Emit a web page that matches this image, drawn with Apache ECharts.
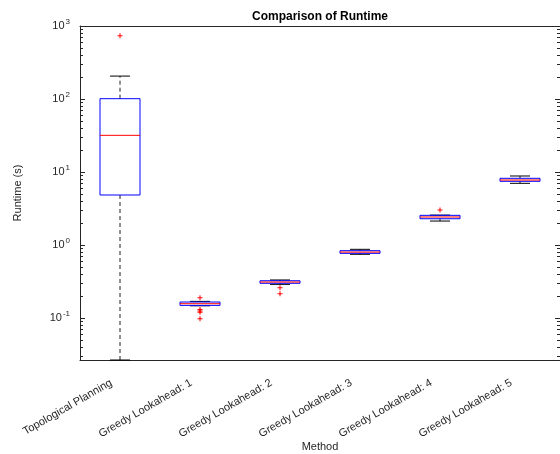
<!DOCTYPE html>
<html>
<head>
<meta charset="utf-8">
<script src="https://cdn.jsdelivr.net/npm/echarts@6/dist/echarts.min.js"></script>
<style>
  html, body { margin: 0; padding: 0; background: #fff; }
  #main { width: 560px; height: 454px; }
</style>
</head>
<body>
<div id="main"></div>
<script>
var categories = ['Topological Planning', 'Greedy Lookahead: 1', 'Greedy Lookahead: 2',
                  'Greedy Lookahead: 3', 'Greedy Lookahead: 4', 'Greedy Lookahead: 5'];
// box statistics per method (seconds)
var whiskerLow  = [0.0266, 0.147, 0.289, 0.746, 2.13, 7.0];
var q1          = [4.84, 0.149, 0.299, 0.769, 2.29, 7.46];
var medians     = [31.8, 0.157, 0.311, 0.80, 2.42, 7.77];
var q3          = [101, 0.1656, 0.324, 0.836, 2.55, 8.2];
var whiskerHigh = [206, 0.169, 0.332, 0.873, 2.57, 8.82];
// outliers: [methodIndex, value]
var outliers = [
  [0, 736],
  [1, 0.190], [1, 0.131], [1, 0.125], [1, 0.120], [1, 0.098],
  [2, 0.260], [2, 0.215],
  [4, 3.02]
];
var majorTicks = [0.1, 1, 10, 100, 1000];
var minorTicks = [];
[0.01, 0.1, 1, 10, 100].forEach(function (d) {
  for (var k = 2; k <= 9; k++) {
    var v = +(d * k).toPrecision(3);
    if (v > 0.0266 && v < 1000) minorTicks.push(v);
  }
});

var yMin = 0.0266, yMax = 1000;
var fontFamily = '"Liberation Sans", Arial, Helvetica, sans-serif';
var ink = '#262626';

var boxData = categories.map(function (c, i) {
  return [i, whiskerLow[i], q1[i], medians[i], q3[i], whiskerHigh[i]];
});

function renderBox(params, api) {
  var i = api.value(0);
  var band = api.coord([1, 1])[0] - api.coord([0, 1])[0];
  var pLo = api.coord([i, api.value(1)]);
  var pQ1 = api.coord([i, api.value(2)]);
  var pMd = api.coord([i, api.value(3)]);
  var pQ3 = api.coord([i, api.value(4)]);
  var pHi = api.coord([i, api.value(5)]);
  var x = pMd[0];
  var hb = band * 0.25, hc = band * 0.125;
  var dash = { stroke: '#222', lineWidth: 1, lineDash: [4, 3] };
  var solid = { stroke: '#000', lineWidth: 1 };
  return {
    type: 'group',
    children: [
      { type: 'line', shape: { x1: x, y1: pQ3[1], x2: x, y2: pHi[1] }, style: dash },
      { type: 'line', shape: { x1: x, y1: pQ1[1], x2: x, y2: pLo[1] }, style: dash },
      { type: 'line', shape: { x1: x - hc, y1: pHi[1], x2: x + hc, y2: pHi[1] }, style: solid },
      { type: 'line', shape: { x1: x - hc, y1: pLo[1], x2: x + hc, y2: pLo[1] }, style: solid },
      { type: 'rect', shape: { x: x - hb, y: pQ3[1], width: 2 * hb, height: pQ1[1] - pQ3[1] },
        style: { fill: 'none', stroke: '#0000ff', lineWidth: 1 } },
      { type: 'line', shape: { x1: x - hb, y1: pMd[1], x2: x + hb, y2: pMd[1] },
        style: { stroke: '#ff0000', lineWidth: 1 } }
    ]
  };
}

var myChart = echarts.init(document.getElementById('main'));

var logAxisBase = { type: 'log', min: yMin, max: yMax, logBase: 10, splitLine: { show: false } };

myChart.setOption({
  animation: false,
  backgroundColor: '#fff',
  textStyle: { fontFamily: fontFamily },
  graphic: [{
    type: 'text', x: 320, y: 11,
    style: { text: 'Comparison of Runtime', textAlign: 'center', textVerticalAlign: 'top',
             fontFamily: fontFamily, fontSize: 12, fontWeight: 'bold', fill: '#000' }
  }],
  grid: { left: 80, right: 0, top: 26, bottom: 94, containLabel: false, outerBoundsMode: 'none' },
  xAxis: [{
    type: 'category', data: categories, position: 'bottom',
    name: 'Method', nameLocation: 'middle', nameGap: 81, nameMoveOverlap: false,
    nameTextStyle: { color: ink, fontSize: 11, fontFamily: fontFamily },
    axisLine: { lineStyle: { color: ink, width: 1 } },
    axisTick: { inside: true, length: 5, alignWithLabel: true, lineStyle: { color: ink } },
    axisLabel: { rotate: 30, margin: 17, padding: [0, 10, 0, 0], color: ink, fontSize: 11,
                 fontFamily: fontFamily, interval: 0 }
  }, {
    type: 'category', data: categories, position: 'top',
    axisLine: { lineStyle: { color: ink, width: 1 } },
    axisTick: { inside: true, length: 5, alignWithLabel: true, lineStyle: { color: ink } },
    axisLabel: { show: false }
  }],
  yAxis: [
    Object.assign({}, logAxisBase, {
      position: 'left',
      name: 'Runtime (s)', nameLocation: 'middle', nameGap: 57, nameMoveOverlap: false,
      nameTextStyle: { color: ink, fontSize: 11, fontFamily: fontFamily },
      axisLine: { show: true, lineStyle: { color: ink, width: 1 } },
      axisTick: { show: true, inside: true, length: 5, customValues: majorTicks, lineStyle: { color: ink } },
      axisLabel: {
        customValues: majorTicks, margin: 10, color: ink,
        formatter: function (v) {
          return '{b|10}{e|' + Math.round(Math.log10(v)) + '}';
        },
        rich: {
          b: { fontSize: 11, color: ink, fontFamily: fontFamily },
          e: { fontSize: 8, color: ink, fontFamily: fontFamily, padding: [0, 0, 8, 1] }
        }
      }
    }),
    Object.assign({}, logAxisBase, {
      position: 'left',
      axisLine: { show: false },
      axisTick: { show: true, inside: true, length: 3, customValues: minorTicks, lineStyle: { color: ink } },
      axisLabel: { show: false }
    }),
    Object.assign({}, logAxisBase, {
      position: 'right',
      axisLine: { show: false },
      axisTick: { show: true, inside: true, length: 5, customValues: majorTicks, lineStyle: { color: ink } },
      axisLabel: { show: false }
    }),
    Object.assign({}, logAxisBase, {
      position: 'right',
      axisLine: { show: false },
      axisTick: { show: true, inside: true, length: 3, customValues: minorTicks, lineStyle: { color: ink } },
      axisLabel: { show: false }
    })
  ],
  series: [{
    type: 'custom',
    name: 'Runtime',
    xAxisIndex: 0, yAxisIndex: 0,
    renderItem: renderBox,
    encode: { x: 0, y: [1, 2, 3, 4, 5] },
    data: boxData,
    clip: false
  }, {
    type: 'scatter',
    name: 'Outliers',
    xAxisIndex: 0, yAxisIndex: 0,
    symbol: 'path://M4,0L6,0L6,4L10,4L10,6L6,6L6,10L4,10L4,6L0,6L0,4L4,4Z',
    symbolSize: 5,
    itemStyle: { color: '#ff0000', opacity: 1 },
    data: outliers
  }]
});
</script>
</body>
</html>
